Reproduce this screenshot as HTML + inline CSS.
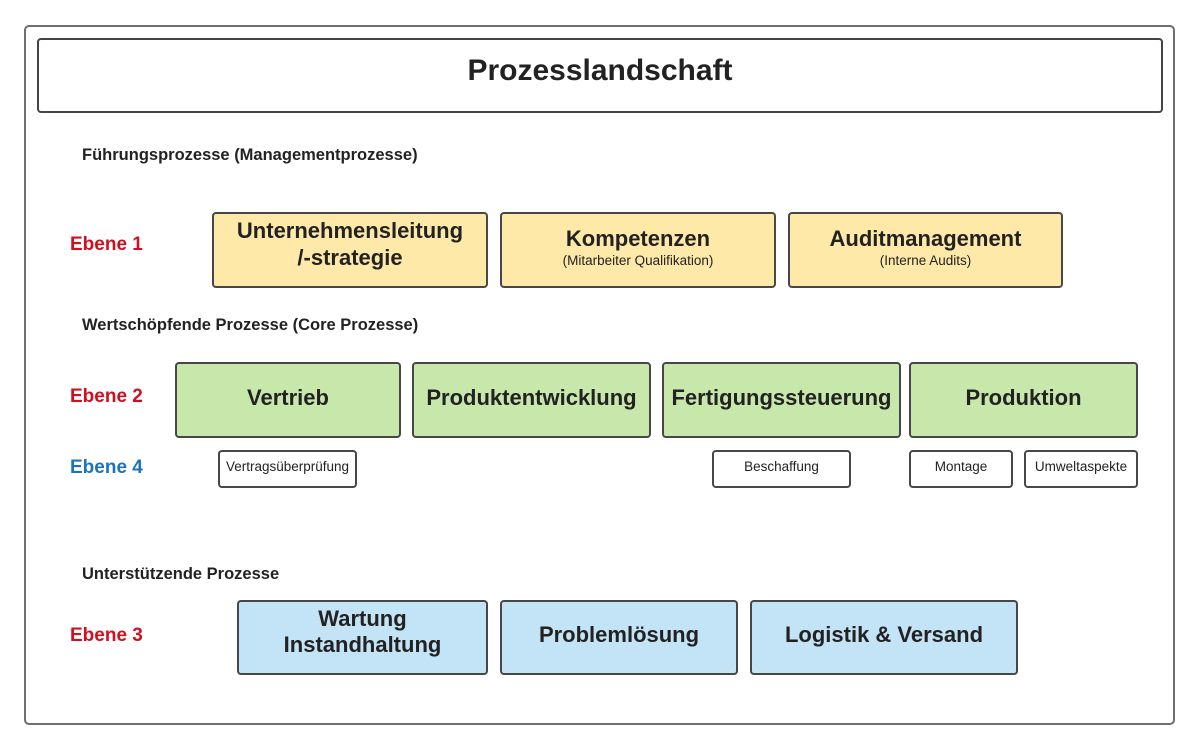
<!DOCTYPE html>
<html>
<head>
<meta charset="utf-8">
<style>
  html, body { margin:0; padding:0; background:#fff; }
  body { width:1200px; height:750px; position:relative; overflow:hidden;
         font-family:"Liberation Sans", Arial, sans-serif; color:#222; }
  .abs { position:absolute; box-sizing:border-box; }
  .frame { left:24px; top:25px; width:1151px; height:700px; border:2px solid #6e6e6e; border-radius:5px; }
  .titlebox { left:37px; top:38px; width:1126px; height:75px; border:2px solid #444; border-radius:4px; background:#fff; }
  .box { border:2px solid #474747; border-radius:4px; }
  .y { background:#fee9a8; }
  .g { background:#c8e7ab; }
  .b { background:#c3e3f6; }
  .w { background:#fff; }
  .t { position:absolute; white-space:nowrap; text-align:center; }
  .bold { font-weight:bold; }
  .red { color:#d0101f; }
  .blue { color:#1b74bb; }
</style>
</head>
<body>
  <div class="abs frame"></div>
  <div class="abs titlebox"></div>
  <div class="t bold" style="left:37px;width:1126px;top:56px;font-size:30px;line-height:30px;color:#222;">Prozesslandschaft</div>

  <!-- Section headings -->
  <div class="t bold" style="left:82px;top:147px;font-size:16.5px;line-height:16.5px;text-align:left;">Führungsprozesse (Managementprozesse)</div>
  <div class="t bold" style="left:82px;top:317px;font-size:16.5px;line-height:16.5px;text-align:left;">Wertschöpfende Prozesse (Core Prozesse)</div>
  <div class="t bold" style="left:82px;top:566px;font-size:16.5px;line-height:16.5px;text-align:left;">Unterstützende Prozesse</div>

  <!-- Ebene labels -->
  <div class="t bold red" style="left:70px;top:235px;font-size:19px;line-height:19px;text-align:left;">Ebene 1</div>
  <div class="t bold red" style="left:70px;top:387px;font-size:19px;line-height:19px;text-align:left;">Ebene 2</div>
  <div class="t bold blue" style="left:70px;top:458px;font-size:19px;line-height:19px;text-align:left;">Ebene 4</div>
  <div class="t bold red" style="left:70px;top:626px;font-size:19px;line-height:19px;text-align:left;">Ebene 3</div>

  <!-- Ebene 1 yellow boxes -->
  <div class="abs box y" style="left:212px;top:212px;width:276px;height:76px;"></div>
  <div class="t bold" style="left:212px;width:276px;top:220px;font-size:22px;line-height:22px;">Unternehmensleitung</div>
  <div class="t bold" style="left:212px;width:276px;top:247px;font-size:22px;line-height:22px;">/-strategie</div>

  <div class="abs box y" style="left:500px;top:212px;width:276px;height:76px;"></div>
  <div class="t bold" style="left:500px;width:276px;top:228px;font-size:22px;line-height:22px;">Kompetenzen</div>
  <div class="t" style="left:500px;width:276px;top:254px;font-size:13.5px;line-height:13.5px;">(Mitarbeiter Qualifikation)</div>

  <div class="abs box y" style="left:788px;top:212px;width:275px;height:76px;"></div>
  <div class="t bold" style="left:788px;width:275px;top:228px;font-size:22px;line-height:22px;">Auditmanagement</div>
  <div class="t" style="left:788px;width:275px;top:254px;font-size:13.5px;line-height:13.5px;">(Interne Audits)</div>

  <!-- Ebene 2 green boxes -->
  <div class="abs box g" style="left:175px;top:362px;width:226px;height:76px;"></div>
  <div class="t bold" style="left:175px;width:226px;top:387px;font-size:22px;line-height:22px;">Vertrieb</div>

  <div class="abs box g" style="left:412px;top:362px;width:239px;height:76px;"></div>
  <div class="t bold" style="left:412px;width:239px;top:387px;font-size:22px;line-height:22px;">Produktentwicklung</div>

  <div class="abs box g" style="left:662px;top:362px;width:239px;height:76px;"></div>
  <div class="t bold" style="left:662px;width:239px;top:387px;font-size:22px;line-height:22px;">Fertigungssteuerung</div>

  <div class="abs box g" style="left:909px;top:362px;width:229px;height:76px;"></div>
  <div class="t bold" style="left:909px;width:229px;top:387px;font-size:22px;line-height:22px;">Produktion</div>

  <!-- Ebene 4 small boxes -->
  <div class="abs box w" style="left:218px;top:450px;width:139px;height:38px;"></div>
  <div class="t" style="left:218px;width:139px;top:460px;font-size:13.5px;line-height:13.5px;">Vertragsüberprüfung</div>

  <div class="abs box w" style="left:712px;top:450px;width:139px;height:38px;"></div>
  <div class="t" style="left:712px;width:139px;top:460px;font-size:13.5px;line-height:13.5px;">Beschaffung</div>

  <div class="abs box w" style="left:909px;top:450px;width:104px;height:38px;"></div>
  <div class="t" style="left:909px;width:104px;top:460px;font-size:13.5px;line-height:13.5px;">Montage</div>

  <div class="abs box w" style="left:1024px;top:450px;width:114px;height:38px;"></div>
  <div class="t" style="left:1024px;width:114px;top:460px;font-size:13.5px;line-height:13.5px;">Umweltaspekte</div>

  <!-- Ebene 3 blue boxes -->
  <div class="abs box b" style="left:237px;top:600px;width:251px;height:75px;"></div>
  <div class="t bold" style="left:237px;width:251px;top:608px;font-size:22px;line-height:22px;">Wartung</div>
  <div class="t bold" style="left:237px;width:251px;top:634px;font-size:22px;line-height:22px;">Instandhaltung</div>

  <div class="abs box b" style="left:500px;top:600px;width:238px;height:75px;"></div>
  <div class="t bold" style="left:500px;width:238px;top:624px;font-size:22px;line-height:22px;">Problemlösung</div>

  <div class="abs box b" style="left:750px;top:600px;width:268px;height:75px;"></div>
  <div class="t bold" style="left:750px;width:268px;top:624px;font-size:22px;line-height:22px;">Logistik &amp; Versand</div>
</body>
</html>
